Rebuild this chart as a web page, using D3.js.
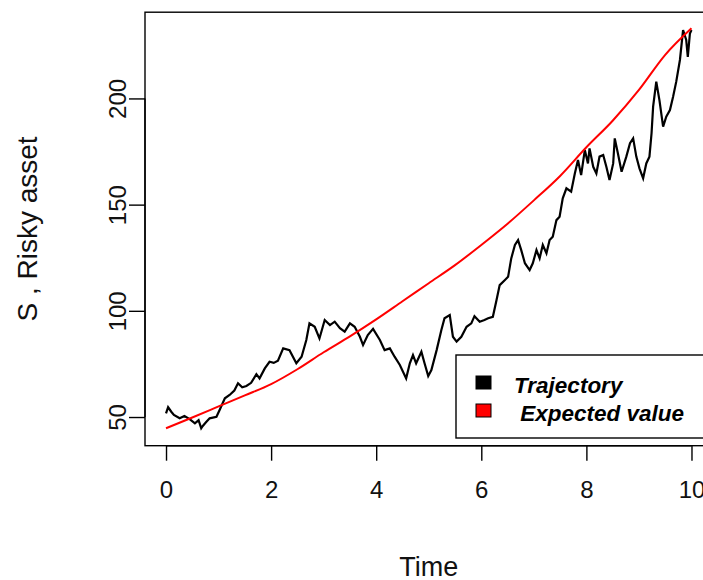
<!DOCTYPE html>
<html>
<head>
<meta charset="utf-8">
<script src="https://cdn.jsdelivr.net/npm/d3@7/dist/d3.min.js"></script>
<style>
  html, body { margin: 0; padding: 0; background: #ffffff; }
  svg { display: block; font-family: "Liberation Sans", Arial, sans-serif; }
</style>
</head>
<body>
<svg id="chart" width="703" height="580"></svg>
<script>
// Simulated price path of the risky asset S over time
const trajTime = [0.00,0.04,0.10,0.15,0.26,0.35,0.45,0.55,0.62,0.67,0.70,0.76,0.83,0.96,1.02,1.12,1.21,1.30,1.37,1.45,1.53,1.62,1.72,1.78,1.88,1.97,2.05,2.13,2.23,2.35,2.48,2.58,2.67,2.73,2.83,2.92,3.02,3.12,3.21,3.31,3.40,3.50,3.59,3.69,3.75,3.84,3.94,4.07,4.16,4.26,4.35,4.45,4.57,4.64,4.70,4.76,4.86,4.92,4.99,5.05,5.15,5.24,5.30,5.40,5.46,5.53,5.62,5.72,5.81,5.87,5.97,6.06,6.13,6.22,6.29,6.35,6.45,6.51,6.57,6.64,6.70,6.76,6.83,6.92,6.98,7.05,7.11,7.17,7.24,7.30,7.36,7.43,7.49,7.55,7.62,7.71,7.78,7.84,7.90,7.97,8.03,8.06,8.13,8.19,8.25,8.32,8.38,8.44,8.51,8.54,8.60,8.67,8.76,8.83,8.89,8.95,9.01,9.08,9.14,9.20,9.24,9.27,9.33,9.39,9.46,9.52,9.59,9.65,9.71,9.78,9.84,9.90,9.93,9.97,10.00];
const trajValue = [51.7,54.6,52.5,51.0,49.4,50.5,49.0,47.0,48.5,44.7,45.8,47.5,49.4,50.1,53.3,58.8,60.4,62.5,65.9,64.0,64.6,66.1,70.2,68.2,72.9,76.0,75.5,76.5,82.3,81.5,75.3,78.4,86.3,94.1,92.5,87.0,95.7,93.3,94.9,91.8,90.2,94.1,92.5,87.8,83.9,88.6,91.5,86.3,81.5,82.3,78.4,74.5,68.2,75.3,79.2,75.3,80.7,75.3,69.3,72.1,81.5,91.0,96.5,98.0,87.8,85.5,87.8,92.5,94.1,97.5,94.9,95.7,96.5,97.2,105.1,112.1,114.5,116.0,124.7,131.0,133.3,128.6,122.4,119.2,122.4,128.6,124.7,131.0,127.1,133.3,134.9,142.7,144.3,153.0,157.7,156.1,164.7,171.0,163.9,175.7,169.4,176.5,167.8,164.7,172.6,173.4,167.8,161.6,169.4,181.2,174.1,165.5,172.6,178.9,181.2,172.6,167.1,162.4,169.4,172.6,183.6,196.1,207.9,199.2,186.7,191.4,194.5,200.8,207.9,218.1,232.2,227.5,219.6,230.6,232.2];

// Expected value E[S_t]
const expTime = [0,0.5,1,1.5,2,2.5,3,3.5,4,4.5,5,5.5,6,6.5,7,7.5,8,8.5,9,9.5,10];
const expValue = [44.7,49.8,55.0,60.2,65.5,72.5,80.5,88.0,96.0,104.5,113.0,121.5,131.0,141.0,152.0,163.5,177.0,189.5,204.0,220.5,233.0];

const xTicks = [0, 2, 4, 6, 8, 10];
const yTicks = [50, 100, 150, 200];
const legendLabels = ["Trajectory", " Expected value"];
const legendColors = ["#000000", "#ff0000"];

const svg = d3.select("#chart");
svg.append("rect").attr("width", 703).attr("height", 580).attr("fill", "#ffffff");

// Plot region (R-style 4% extension of data range)
const plotL = 145, plotR = 712.5, plotT = 12.2, plotB = 445.7;
const x = d3.scaleLinear().domain([-0.4, 10.4]).range([plotL, plotR]);
const y = d3.scaleLinear().domain([36.5, 240.6]).range([plotB, plotT]);

const traj = trajTime.map((t, i) => [t, trajValue[i]]);
const expd = expTime.map((t, i) => [t, expValue[i]]);
const line = d3.line().x(d => x(d[0])).y(d => y(d[1]));

svg.append("path").datum(traj)
  .attr("d", line).attr("fill", "none")
  .attr("stroke", "#000000").attr("stroke-width", 2.2)
  .attr("stroke-linejoin", "miter");

svg.append("path").datum(expd)
  .attr("d", line.curve(d3.curveMonotoneX)).attr("fill", "none")
  .attr("stroke", "#ff0000").attr("stroke-width", 2);

// Box
svg.append("rect")
  .attr("x", plotL).attr("y", plotT)
  .attr("width", plotR - plotL).attr("height", plotB - plotT)
  .attr("fill", "none").attr("stroke", "#000000").attr("stroke-width", 1.4);

// Axes
const xAxis = d3.axisBottom(x).tickValues(xTicks).tickSize(15).tickPadding(20).tickFormat(d3.format("d"));
const gx = svg.append("g").attr("transform", `translate(0,${plotB})`).call(xAxis);
gx.select(".domain").attr("d", `M${x(0)},0H${x(10)}`).attr("stroke-width", 1.4);
gx.selectAll(".tick line").attr("stroke-width", 1.4);
gx.selectAll("text").attr("font-size", 24).attr("fill", "#111").attr("font-family", "Liberation Sans, Arial, sans-serif");

const yAxis = d3.axisLeft(y).tickValues(yTicks).tickSize(16).tickFormat(d3.format("d"));
const gy = svg.append("g").attr("transform", `translate(${plotL},0)`).call(yAxis);
gy.select(".domain").attr("d", `M0,${y(50)}V${y(200)}`).attr("stroke-width", 1.4);
gy.selectAll(".tick line").attr("stroke-width", 1.4);
gy.selectAll("text")
  .attr("font-size", 24).attr("fill", "#111").attr("font-family", "Liberation Sans, Arial, sans-serif")
  .attr("x", null).attr("dy", null)
  .attr("text-anchor", "middle")
  .attr("transform", "translate(-19,0) rotate(-90)");

// Axis titles
svg.append("text").attr("x", (plotL + plotR) / 2).attr("y", 576)
  .attr("text-anchor", "middle").attr("font-size", 27).attr("fill", "#111").text("Time");
svg.append("text")
  .attr("transform", `translate(37,${(plotT + plotB) / 2}) rotate(-90)`)
  .attr("text-anchor", "middle").attr("font-size", 28).attr("fill", "#111").text("S , Risky asset");

// Legend
const lg = svg.append("g");
lg.append("rect").attr("x", 456).attr("y", 355).attr("width", 300).attr("height", 83)
  .attr("fill", "#ffffff").attr("stroke", "#000000").attr("stroke-width", 1.4);
legendLabels.forEach((lab, i) => {
  const cy = 383 + i * 28;
  lg.append("rect").attr("x", 476).attr("y", cy - 7).attr("width", 15).attr("height", 13)
    .attr("fill", legendColors[i]).attr("stroke", "#000000").attr("stroke-width", 1);
  lg.append("text").attr("x", 514).attr("y", cy + 10)
    .attr("font-size", 22.5).attr("font-weight", "bold").attr("font-style", "italic")
    .attr("fill", "#000000").attr("xml:space", "preserve").style("white-space", "pre").text(lab);
});
</script>
</body>
</html>
